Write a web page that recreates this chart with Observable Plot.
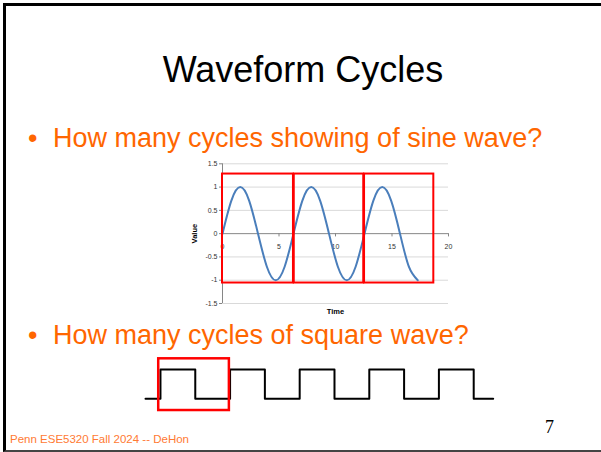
<!DOCTYPE html>
<html>
<head>
<meta charset="utf-8">
<script src="https://cdn.jsdelivr.net/npm/d3@7"></script>
<script src="https://cdn.jsdelivr.net/npm/@observablehq/plot@0.6"></script>
<style>
  html, body { margin: 0; padding: 0; background: #fff; width: 601px; height: 452px; overflow: hidden; }
  .frame { position: absolute; left: 3px; top: 3px; width: 600px; height: 444px;
           border-top: 3px solid #000; border-left: 3px solid #000; border-bottom: 2px solid #444; }
  .t { position: absolute; white-space: nowrap; font-family: "Liberation Sans", Arial, sans-serif; line-height: 1; }
  #chart, #square { position: absolute; }
</style>
</head>
<body>
<div class="frame"></div>
<div class="t" style="left:0;width:606px;text-align:center;top:51.5px;font-size:36px;color:#000;">Waveform Cycles</div>
<div class="t" style="left:28px;top:125.4px;font-size:27px;color:#ff6600;">•</div>
<div class="t" style="left:53px;top:125.4px;font-size:27px;color:#ff6600;">How many cycles showing of sine wave?</div>
<div class="t" style="left:28px;top:322.1px;font-size:27px;color:#ff6600;">•</div>
<div class="t" style="left:53px;top:322.1px;font-size:27px;color:#ff6600;">How many cycles of square wave?</div>
<div class="t" style="left:10px;top:433.6px;font-size:11.5px;color:#ff7a33;">Penn ESE5320 Fall 2024 -- DeHon</div>
<div class="t" style="left:545px;top:418.2px;font-size:18px;color:#000;font-family:'Liberation Serif', serif;">7</div>
<div id="chart" style="left:180px;top:155px;"></div>
<div id="square" style="left:130px;top:350px;"></div>
<script>
// ---- sine chart data ----
const xTicks = [0, 5, 10, 15, 20];
const yTicks = [-1.5, -1, -0.5, 0, 0.5, 1, 1.5];
const sineTime  = [0, 0.785, 1.571, 2.356, 3.142, 3.927, 4.712, 5.498, 6.283, 7.069, 7.854, 8.639, 9.425, 10.21, 10.996, 11.781, 12.566, 13.352, 14.137, 14.923, 15.708, 16.493, 17.279];
const sineValue = [0, 0.71, 1, 0.71, 0, -0.71, -1, -0.71, 0, 0.71, 1, 0.71, 0, -0.71, -1, -0.71, 0, 0.71, 1, 0.71, 0, -0.71, -1];
const boxStart = [0, 6.35, 12.57];
const boxEnd   = [6.28, 12.5, 18.7];
const boxLow = -1.06;
const boxHigh = 1.28;
const xLabel = "Time";
const yLabel = "Value";

// ---- square wave data ----
const squareTime  = [-0.43, 0, 1, 2, 3, 4, 5, 6, 7, 8, 9, 9.56];
const squareLevel = [0, 1, 0, 1, 0, 1, 0, 1, 0, 1, 0, 0];
const squareBoxX = [-0.05, 1.98];
const squareBoxY = [-0.4, 1.365];

const sine = sineTime.map((t, i) => ({t, v: sineValue[i]}));
const boxes = boxStart.map((s, i) => ({x1: s, x2: boxEnd[i]}));
const fmt = d => String(d);

const chart = Plot.plot({
  width: 280, height: 165,
  marginLeft: 42, marginRight: 12, marginTop: 8.3, marginBottom: 17,
  style: {background: "transparent", fontFamily: "Liberation Sans, Arial, sans-serif", overflow: "visible"},
  x: {domain: [0, 20], axis: null},
  y: {domain: [-1.5, 1.5], axis: null},
  marks: [
    Plot.ruleY(yTicks.filter(d => d !== 0), {x1: 0, x2: 20, stroke: "#d9d9d9", strokeWidth: 1}),
    Plot.ruleY([0], {x1: 0, x2: 20, stroke: "#868686", strokeWidth: 1}),
    Plot.ruleX([0], {y1: -1.5, y2: 1.5, stroke: "#868686", strokeWidth: 1}),
    Plot.ruleX(xTicks, {y1: 0, y2: -0.07, stroke: "#868686", strokeWidth: 1}),
    Plot.axisY({ticks: yTicks, tickSize: 3, tickPadding: 2, tickFormat: fmt, fontSize: 7, stroke: "#868686", fill: "#333", label: null}),
    Plot.text(xTicks, {x: d => d, y: 0, dy: 13, text: fmt, fontSize: 7, fill: "#333"}),
    Plot.text([yLabel], {x: 0, y: 0, dx: -28, rotate: -90, text: d => d, fontSize: 7.5, fontWeight: "bold", fill: "#000"}),
    Plot.text([xLabel], {x: 10, y: -1.5, dy: 8, text: d => d, fontSize: 7.5, fontWeight: "bold", fill: "#000"}),
    Plot.line(sine, {x: "t", y: "v", curve: "natural", stroke: "#4a7ebb", strokeWidth: 2}),
    Plot.rect(boxes, {x1: "x1", x2: "x2", y1: boxLow, y2: boxHigh, fill: "none", stroke: "#ff0000", strokeWidth: 2})
  ]
});
document.getElementById("chart").appendChild(chart);

const square = squareTime.map((t, i) => ({t, v: squareLevel[i]}));
const sq = Plot.plot({
  width: 380, height: 70,
  marginLeft: 15, marginRight: 17.3, marginTop: 19, marginBottom: 21.7,
  style: {background: "transparent", overflow: "visible"},
  x: {domain: [-0.43, 9.56], axis: null},
  y: {domain: [0, 1], axis: null},
  marks: [
    Plot.line(square, {x: "t", y: "v", curve: "step-after", stroke: "#000", strokeWidth: 2}),
    Plot.rect([{x1: squareBoxX[0], x2: squareBoxX[1], y1: squareBoxY[0], y2: squareBoxY[1]}],
      {x1: "x1", x2: "x2", y1: "y1", y2: "y2", fill: "none", stroke: "#ff0000", strokeWidth: 2.5})
  ]
});
document.getElementById("square").appendChild(sq);
</script>
</body>
</html>
